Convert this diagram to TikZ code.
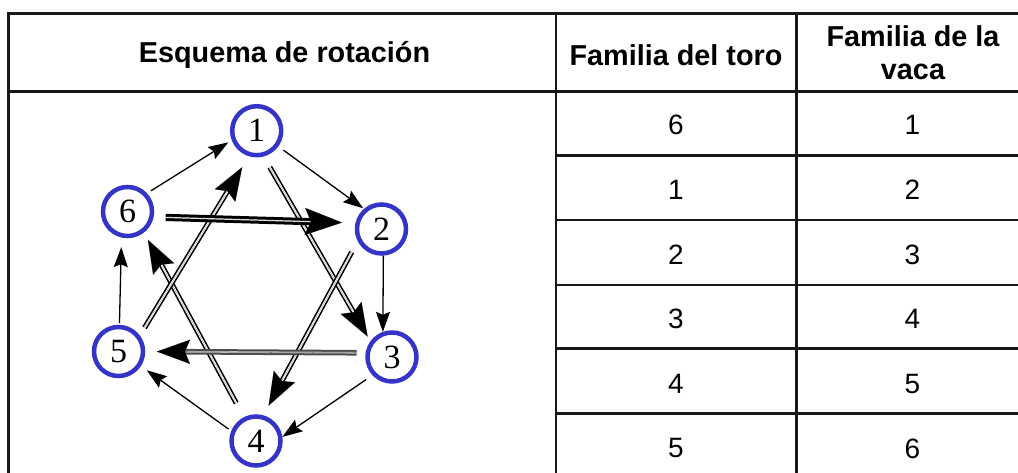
\documentclass[tikz,border=0pt]{standalone}
\usepackage{fontspec}
\setmainfont{Liberation Sans}
\newfontfamily\serifnum{Liberation Serif}
\usetikzlibrary{arrows.meta}
\definecolor{ringblue}{RGB}{52,52,200}
\begin{document}
\begin{tikzpicture}[x=1pt,y=-1pt,
  ring/.style={circle, draw=ringblue, line width=4.5pt, minimum size=49pt, inner sep=0pt,
    font=\serifnum\fontsize{34}{34}\selectfont},
  thinarrow/.style={line width=1.3pt, -{Stealth[length=20pt,width=14pt,inset=3pt]}},
  dbl/.style={draw=black, double=white, line width=1.6pt, double distance=2pt},
  dblbold/.style={draw=black, double=white, line width=3pt, double distance=1.2pt},
  dblgray/.style={draw=black!70, double=black!25, line width=2pt, double distance=1.6pt},
  headtip/.style={line width=0.01pt, -{Stealth[length=33pt,width=24pt,inset=5pt]}},
  bighead/.style={line width=0.01pt, -{Stealth[length=37pt,width=27pt,inset=6pt]}},
  gridline/.style={line width=2.7pt, draw=black!90},
  hdr/.style={font=\bfseries\fontsize{28.8}{33}\selectfont, inner sep=0pt},
  cell/.style={font=\fontsize{28}{28}\selectfont, inner sep=0pt}
]
\useasboundingbox (0,0) rectangle (1018,473);
\begin{scope}
  \clip (0,0) rectangle (1018,473);
  \draw[gridline] (8.7,13.8) -- (1040,13.8);
  \draw[gridline] (8.7,91.7) -- (1040,91.7);
  \foreach \yy in {155.7,220,285,348.3,413.3}
    \draw[gridline] (556,\yy) -- (1040,\yy);
  \foreach \xx in {8.7,556,796.2}
    \draw[gridline] (\xx,12.45) -- (\xx,480);
\end{scope}

% header
\node[hdr] (h1) at (284.5,55) {Esquema de rotación};
\node[hdr] (h2) at (676,55) {Familia del toro};
\node[hdr, align=center] (h3) at (913,53) {Familia de la\\vaca};

% body cells
\foreach \a/\b [count=\i] in {6/1,1/2,2/3,3/4,4/5,5/6} {
  \pgfmathsetmacro{\yc}{125+(\i-1)*64.7}
  \node[cell] (t\i) at (676,\yc) {\a};
  \node[cell] (v\i) at (912.5,\yc) {\b};
}

% rotation scheme nodes
\node[ring] (n1) at (256.7,130.7) {1};
\node[ring] (n2) at (381.5,229) {2};
\node[ring] (n3) at (392,357) {3};
\node[ring] (n4) at (256,441) {4};
\node[ring] (n5) at (118.5,351.5) {5};
\node[ring] (n6) at (127.5,211.5) {6};

% outer cycle (thin arrows)
\foreach \s/\t/\as/\at/\ss/\st in {
  6/1/43.7/201.2/4.6/4,
  1/2/-36/131.3/6.4/1,
  2/3/-86/110.8/0/0,
  3/4/-137.7/9.5/7.7/0,
  4/5/158.3/-33.3/3.3/7.2,
  5/6/88.4/-103.1/1.7/9.6}
  \draw[thinarrow, shorten <=\ss pt, shorten >=\st pt] (n\s.\as) -- (n\t.\at);

% star (double arrows)
\foreach \s/\t/\as/\at/\ss/\st in {
  1/3/-75.1/144.3/12.4/5.5,
  2/4/207/74.5/12.5/11,
  4/6/117.1/-52/16/8.4,
  5/1/37.3/-107.3/9/12.9} {
  \pgfmathsetmacro{\sd}{\st+18}
  \draw[dbl, shorten <=\ss pt, shorten >=\sd pt] (n\s.\as) -- (n\t.\at);
  \draw[headtip, shorten <=\ss pt, shorten >=\st pt] (n\s.\as) -- (n\t.\at);
}
\draw[dblgray, shorten <=9pt, shorten >=30pt] (n3.171.5) -- (n5.0);
\draw[headtip, shorten <=9pt, shorten >=11.7pt] (n3.171.5) -- (n5.0);
\draw[dblbold, shorten <=12pt, shorten >=35pt] (n6.-12.8) -- (n2.167);
\draw[bighead, shorten <=12pt, shorten >=13.5pt] (n6.-12.8) -- (n2.167);
\end{tikzpicture}
\end{document}
